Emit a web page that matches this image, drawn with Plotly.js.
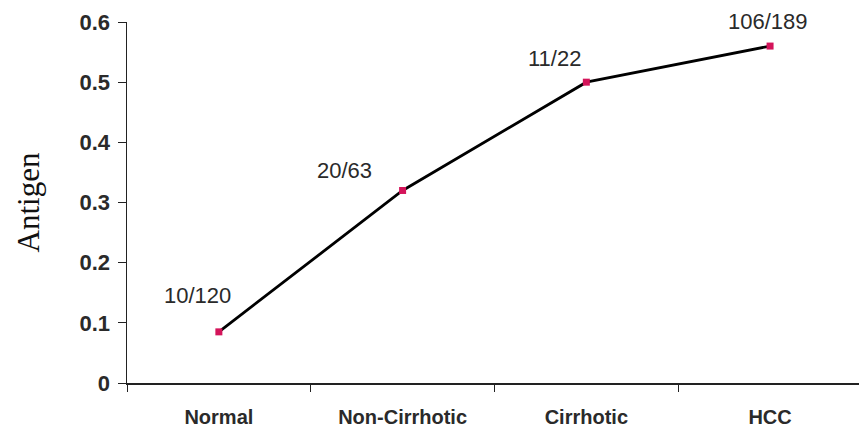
<!DOCTYPE html>
<html>
<head>
<meta charset="utf-8">
<script src="https://cdn.plot.ly/plotly-3.0.1.min.js"></script>
<style>html,body{margin:0;padding:0;background:#fff;}#chart{width:859px;height:430px;}</style>
</head>
<body>
<div id="chart"></div>
<script>
const categories = ["Normal", "Non-Cirrhotic", "Cirrhotic", "HCC"];
const antigen = [0.085, 0.32, 0.5, 0.56];
const pointLabels = ["10/120", "20/63", "11/22", "106/189"];
const yTicks = [0, 0.1, 0.2, 0.3, 0.4, 0.5, 0.6];

const labelShift = [[-21, 36], [-58, 20], [-32, 24], [-2, 25]];

const trace = {
  x: categories,
  y: antigen,
  type: "scatter",
  mode: "lines+markers",
  line: {color: "#000", width: 2.8},
  marker: {symbol: "square", size: 7, color: "#d4145a"},
  hoverinfo: "skip"
};

const annotations = categories.map((c, i) => ({
  x: c, y: antigen[i], xref: "x", yref: "y",
  text: pointLabels[i], showarrow: false,
  xshift: labelShift[i][0], yshift: labelShift[i][1],
  font: {family: "Liberation Sans, Arial, sans-serif", size: 22, color: "#2a2a2a"}
}));

const layout = {
  width: 859, height: 430,
  margin: {l: 127, r: 0, t: 22, b: 47},
  paper_bgcolor: "#fff", plot_bgcolor: "#fff",
  showlegend: false,
  xaxis: {
    type: "category",
    range: [-0.5, 3.484],
    tickson: "boundaries",
    ticks: "outside", ticklen: 7, tickwidth: 1, tickcolor: "#222",
    showline: true, linecolor: "#222", linewidth: 1.5,
    showgrid: false, zeroline: false,
    tickfont: {family: "Liberation Sans, Arial, sans-serif", size: 20, color: "#2a2a2a", weight: "bold"},
    ticklabelstandoff: 15
  },
  yaxis: {
    range: [0, 0.6],
    tickvals: yTicks,
    ticktext: yTicks.map(v => v === 0 ? "0" : v.toFixed(1)),
    ticks: "outside", ticklen: 8, tickwidth: 1, tickcolor: "#222",
    showline: true, linecolor: "#222", linewidth: 1.5,
    showgrid: false, zeroline: false,
    tickfont: {family: "Liberation Sans, Arial, sans-serif", size: 22, color: "#2a2a2a", weight: "bold"},
    ticklabelstandoff: 3,
    title: {text: "Antigen", standoff: 30,
      font: {family: "Liberation Serif, Times New Roman, serif", size: 31, color: "#111"}}
  },
  annotations: annotations
};

Plotly.newPlot("chart", [trace], layout, {displayModeBar: false, staticPlot: true});
</script>
</body>
</html>
